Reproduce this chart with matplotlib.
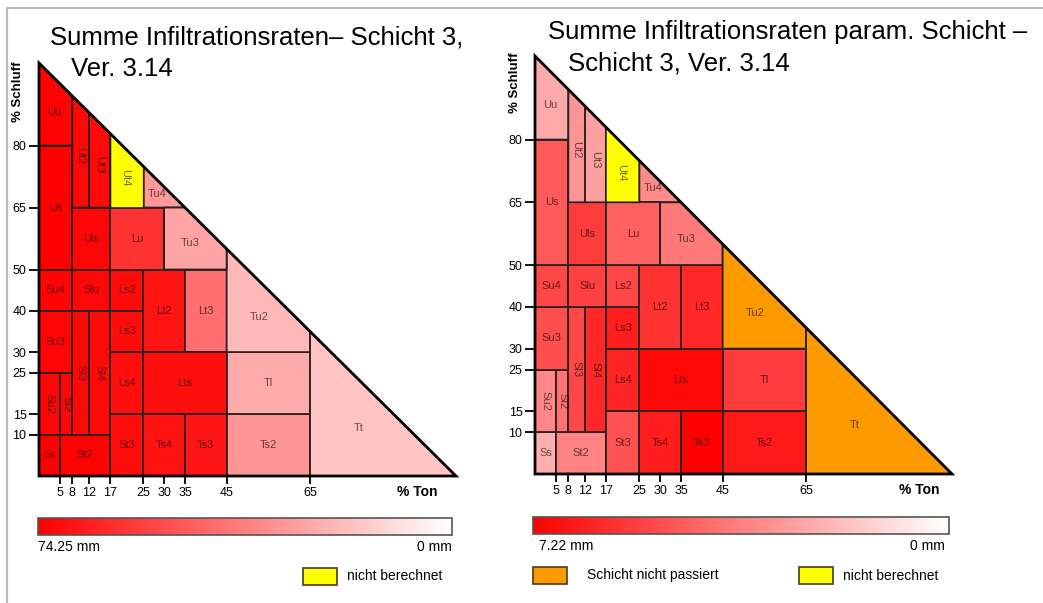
import numpy as np
import matplotlib
matplotlib.use("Agg")
import matplotlib.pyplot as plt
from matplotlib.colors import LinearSegmentedColormap, Normalize
from matplotlib.collections import PolyCollection
from matplotlib.patches import Polygon, Rectangle
from matplotlib.lines import Line2D
import matplotlib.cm as cm

plt.rcParams['font.family'] = ['Liberation Sans', 'DejaVu Sans']

# Bodenarten nach KA5: Ton- und Schluffgrenzen in %
klassen = ["Ss", "St2", "Su2", "Sl2", "Sl3", "Sl4", "St3", "Su3", "Su4", "Slu",
           "Ls2", "Ls3", "Ls4", "Lt2", "Lt3", "Lts", "Ts4", "Ts3", "Ts2", "Tl",
           "Tu2", "Tt", "Us", "Uu", "Uls", "Ut2", "Ut3", "Ut4", "Tu4", "Lu", "Tu3"]
ton_von = [0, 5, 0, 5, 8, 12, 17, 0, 0, 8, 17, 17, 17, 25, 35, 25, 25, 35, 45, 45,
           45, 65, 0, 0, 8, 8, 12, 17, 25, 17, 30]
ton_bis = [5, 17, 5, 8, 12, 17, 25, 8, 8, 17, 25, 25, 25, 35, 45, 45, 35, 45, 65, 65,
           65, 100, 8, 8, 17, 12, 17, 25, 35, 30, 45]
schluff_von = [0, 0, 10, 10, 10, 10, 0, 25, 40, 40, 40, 30, 15, 30, 30, 15, 0, 0, 0, 15,
               30, 0, 50, 80, 50, 65, 65, 65, 65, 50, 50]
schluff_bis = [10, 10, 25, 25, 40, 40, 15, 40, 50, 50, 50, 40, 30, 50, 50, 30, 15, 15, 15, 30,
               100, 100, 80, 100, 65, 100, 100, 100, 100, 65, 65]

# Summe Infiltrationsraten in mm (nan = nicht berechnet)
nan = np.nan
summe_links = [74.0, 73.5, 72.5, 72.5, 72.0, 71.5, 70.5, 72.5, 73.0, 72.0,
               71.0, 70.5, 70.0, 68.5, 42.0, 70.0, 69.0, 68.0, 30.5, 24.5,
               20.5, 17.5, 74.25, 73.5, 72.5, 72.0, 71.5, nan, 30.0, 59.5, 26.5]
summe_rechts = [2.3, 3.5, 3.4, 4.0, 5.2, 6.1, 4.9, 5.0, 5.2, 5.4,
                5.2, 6.4, 6.2, 5.8, 6.1, 7.0, 6.4, 7.22, 6.5, 5.5,
                nan, nan, 4.7, 2.4, 5.5, 3.0, 2.7, nan, 3.3, 4.5, 3.8]
max_links = 74.25
max_rechts = 7.22
nicht_passiert_rechts = ["Tu2", "Tt"]

x_ticks = [5, 8, 12, 17, 25, 30, 35, 45, 65]
y_ticks = [10, 15, 25, 30, 40, 50, 65, 80]
senkrecht = ["Ut2", "Ut3", "Ut4", "Sl2", "Sl3", "Sl4", "Su2"]

W, H = 1043, 603
GELB = "#ffff00"
ORANGE = "#fd9a00"
cmap = LinearSegmentedColormap.from_list("infil", ["#ffffff", "#ff0000"])


def fig_box(x0, y0, x1, y1):
    # Pixelrechteck (oben links / unten rechts) -> Figurkoordinaten
    return [x0 / W, 1 - y1 / H, (x1 - x0) / W, (y1 - y0) / H]


def zelle(x0, x1, y0, y1):
    # Rechteck am Dreiecksrand (Ton + Schluff <= 100) abschneiden
    ecken = [(x0, y0), (x1, y0), (x1, y1), (x0, y1)]
    out = []
    for i in range(4):
        p, q = ecken[i], ecken[(i + 1) % 4]
        pin = p[0] + p[1] <= 100
        qin = q[0] + q[1] <= 100
        if pin:
            out.append(p)
        if pin != qin:
            t = (100 - p[0] - p[1]) / ((q[0] - p[0]) + (q[1] - p[1]))
            out.append((p[0] + t * (q[0] - p[0]), p[1] + t * (q[1] - p[1])))
    return np.array(out)


def schwerpunkt(pts):
    x, y = pts[:, 0], pts[:, 1]
    x2, y2 = np.roll(x, -1), np.roll(y, -1)
    c = x * y2 - x2 * y
    a = c.sum() / 2
    return (x + x2).dot(c) / (6 * a), (y + y2).dot(c) / (6 * a)


def dreieck(box, werte, vmax, orange=()):
    ax = fig.add_axes(box)
    norm = Normalize(0, vmax)
    polys = [zelle(ton_von[i], ton_bis[i], schluff_von[i], schluff_bis[i])
             for i in range(len(klassen))]
    ok = [i for i in range(len(klassen)) if not np.isnan(werte[i])]
    pc = PolyCollection([polys[i] for i in ok], cmap=cmap, norm=norm,
                        edgecolor="#2a2222", linewidth=1.3, clip_on=False)
    pc.set_array(np.array([werte[i] for i in ok]))
    ax.add_collection(pc)
    rest = [i for i in range(len(klassen)) if np.isnan(werte[i])]
    farben = [ORANGE if klassen[i] in orange else GELB for i in rest]
    ax.add_collection(PolyCollection([polys[i] for i in rest], facecolors=farben,
                                     edgecolor="#2a2222", linewidth=1.3, clip_on=False))
    ax.add_patch(Polygon([(0, 0), (100, 0), (0, 100)], closed=True, fill=False,
                         edgecolor="black", linewidth=2.0, clip_on=False))
    for i, name in enumerate(klassen):
        cx, cy = schwerpunkt(polys[i])
        ax.text(cx, cy, name, fontsize=8, color="black", alpha=0.6,
                ha="center", va="center", rotation=-90 if name in senkrecht else 0)
    ax.set_xlim(0, 100)
    ax.set_ylim(0, 100)
    ax.set_xticks(x_ticks)
    ax.set_yticks(y_ticks)
    ax.tick_params(axis="x", length=6, width=1.3, pad=2, labelsize=9)
    ax.tick_params(axis="y", length=7, width=1.3, pad=2, labelsize=9)
    for s in ax.spines.values():
        s.set_visible(False)
    ax.patch.set_alpha(0)
    return ax


def farbskala(box, vmax, text_links, x_links, x_rechts, y_text):
    cax = fig.add_axes(box)
    cb = fig.colorbar(cm.ScalarMappable(norm=Normalize(0, vmax), cmap=cmap),
                      cax=cax, orientation="horizontal", ticks=[])
    cax.invert_xaxis()
    cb.outline.set_edgecolor("#555555")
    cb.outline.set_linewidth(1.2)
    fig.text(x_links / W, 1 - y_text / H, text_links, fontsize=10, va="center", ha="left")
    fig.text(x_rechts / W, 1 - y_text / H, "0 mm", fontsize=10, va="center", ha="right")


def legende(x0, y0, farbe, text, x_text):
    b = fig_box(x0, y0, x0 + 34, y0 + 17)
    fig.add_artist(Rectangle((b[0], b[1]), b[2], b[3], transform=fig.transFigure,
                             facecolor=farbe, edgecolor="#4a3a1a", linewidth=1.2))
    fig.text(x_text / W, 1 - (y0 + 8.5) / H, text, fontsize=10, va="center", ha="left")


fig = plt.figure(figsize=(W / 100, H / 100), dpi=100)
fig.patch.set_facecolor("white")

# Rahmen oben und links
fig.add_artist(Line2D([7 / W, 7 / W, 1], [0, 1 - 8 / H, 1 - 8 / H],
                      transform=fig.transFigure, color="#bdbdbd", linewidth=1.6))

# linkes Diagramm
dreieck(fig_box(39, 63, 456, 476), summe_links, max_links)
fig.text(50 / W, 1 - 44 / H, "Summe Infiltrationsraten\u2013 Schicht 3,", fontsize=18.5)
fig.text(71 / W, 1 - 76 / H, "Ver. 3.14", fontsize=18.5)
fig.text(18 / W, 1 - 92 / H, "% Schluff", fontsize=9.5, fontweight="bold",
         rotation=90, ha="center", va="center")
fig.text(417 / W, 1 - 492 / H, "% Ton", fontsize=10, fontweight="bold",
         ha="center", va="center")
farbskala(fig_box(38, 518, 452, 535), max_links, "74.25 mm", 38, 452, 547)
legende(303, 568, GELB, "nicht berechnet", 347)

# rechtes Diagramm
dreieck(fig_box(535, 56, 952, 474), summe_rechts, max_rechts, nicht_passiert_rechts)
fig.text(548 / W, 1 - 39 / H, "Summe Infiltrationsraten param. Schicht \u2013", fontsize=18.5)
fig.text(568 / W, 1 - 70 / H, "Schicht 3, Ver. 3.14", fontsize=18.5)
fig.text(515 / W, 1 - 83 / H, "% Schluff", fontsize=9.5, fontweight="bold",
         rotation=90, ha="center", va="center")
fig.text(919 / W, 1 - 490 / H, "% Ton", fontsize=10, fontweight="bold",
         ha="center", va="center")
farbskala(fig_box(533, 517, 949, 534), max_rechts, "7.22 mm", 539, 945, 546)
legende(533, 567, ORANGE, "Schicht nicht passiert", 587)
legende(799, 567, GELB, "nicht berechnet", 843)

fig.savefig("out.png", dpi=100, facecolor="white")
